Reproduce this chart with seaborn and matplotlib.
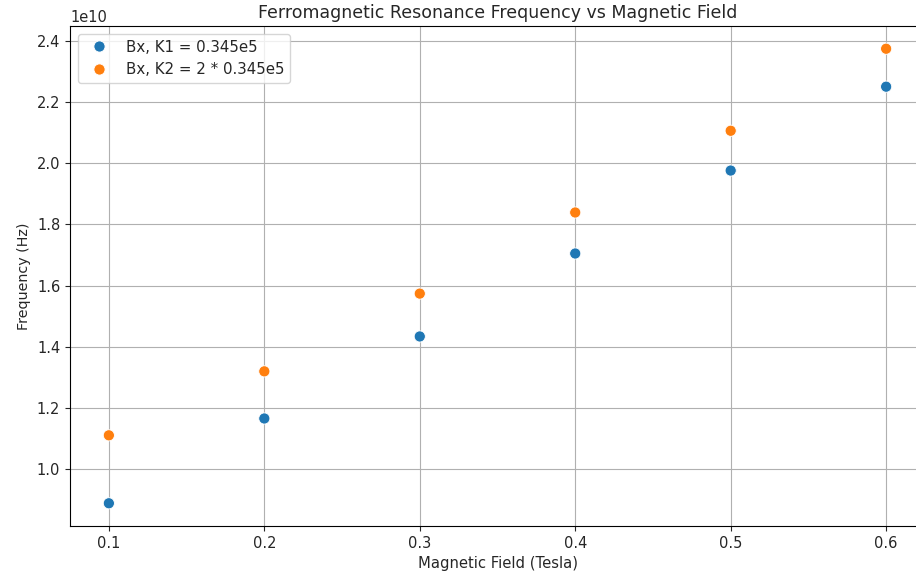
import matplotlib
matplotlib.use("Agg")
import matplotlib.pyplot as plt
import seaborn as sns
import pandas as pd

field = [0.1, 0.2, 0.3, 0.4, 0.5, 0.6]
freq_k1 = [0.889e10, 1.166e10, 1.434e10, 1.705e10, 1.976e10, 2.250e10]
freq_k2 = [1.111e10, 1.320e10, 1.574e10, 1.839e10, 2.106e10, 2.374e10]
labels = ["Bx, K1 = 0.345e5", "Bx, K2 = 2 * 0.345e5"]

df = pd.DataFrame({
    "field": field + field,
    "freq": freq_k1 + freq_k2,
    "series": [labels[0]] * len(field) + [labels[1]] * len(field),
})

plt.rcParams.update({
    "text.color": "0.15", "axes.labelcolor": "0.15",
    "xtick.color": "0.15", "ytick.color": "0.15",
})

fig = plt.figure(figsize=(9.16, 5.77), dpi=100)
ax = fig.add_axes([70 / 916, 1 - 526 / 577, 855 / 916, 500 / 577])
sns.scatterplot(data=df, x="field", y="freq", hue="series",
                palette=["#1f77b4", "#ff7f0e"], s=65, ax=ax, zorder=3)
ax.grid(True, color="#b0b0b0", linewidth=0.8)
ax.set_axisbelow(True)
ax.set_title("Ferromagnetic Resonance Frequency vs Magnetic Field", fontsize=12.5)
ax.set_xlabel("Magnetic Field (Tesla)", fontsize=10.6)
ax.set_ylabel("Frequency (Hz)", fontsize=10.3)
ax.tick_params(labelsize=10.5)
ax.yaxis.get_offset_text().set_fontsize(10.5)
leg = ax.legend(loc="upper left", fontsize=10.8)
leg.set_title(None)
fig.savefig("out.png", dpi=100)
